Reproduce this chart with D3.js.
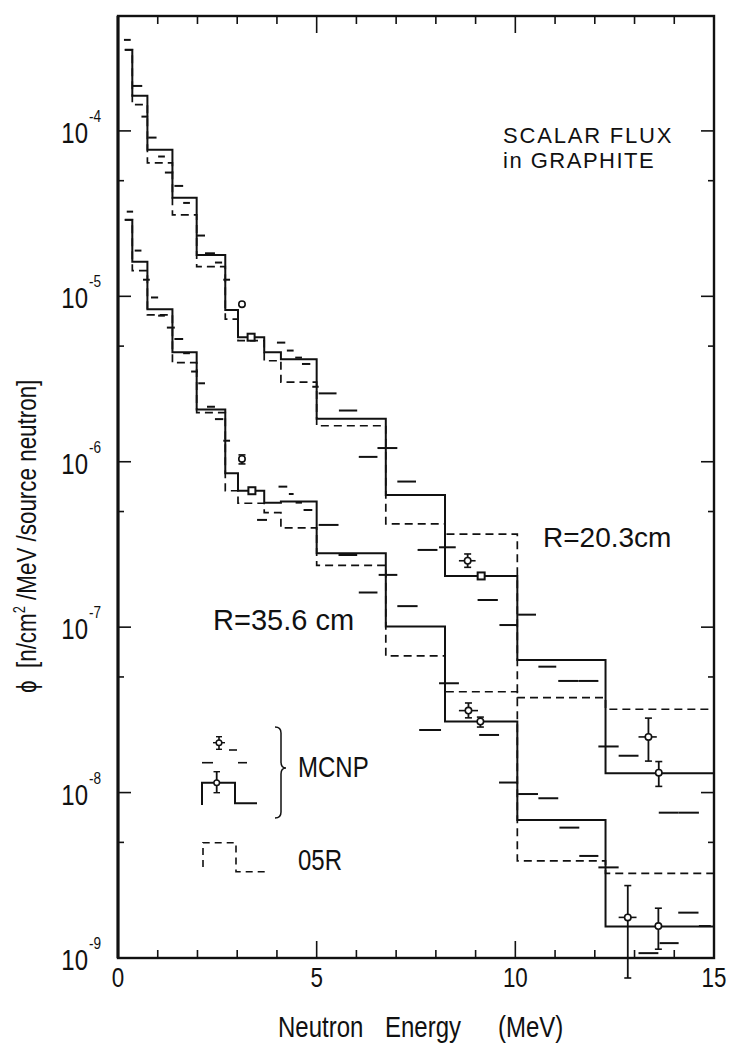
<!DOCTYPE html>
<html>
<head>
<meta charset="utf-8">
<script src="https://cdn.jsdelivr.net/npm/d3@7"></script>
<style>
  body { margin: 0; background: #fff; }
  text { fill: #111; }
</style>
</head>
<body>
<svg id="chart" width="729" height="1045"></svg>
<script>
// energy group boundaries (MeV)
var edges = [0.17, 0.36, 0.74, 1.37, 1.98, 2.70, 3.02, 3.68, 4.10, 5.00, 6.74, 8.23, 10.05, 12.27, 15.0];

// R = 20.3 cm : MCNP (solid) and 05R (dashed) group fluxes
var mcnp20 = [3.09e-4, 1.63e-4, 7.68e-5, 3.95e-5, 1.78e-5, 8.28e-6, 5.66e-6, 4.59e-6, 4.17e-6, 1.82e-6, 6.30e-7, 2.04e-7, 6.34e-8, 1.31e-8];
var o5r20  = [3.09e-4, 1.44e-4, 6.41e-5, 3.11e-5, 1.51e-5, 7.28e-6, 5.40e-6, 4.08e-6, 3.03e-6, 1.65e-6, 4.21e-7, 3.65e-7, 3.75e-8, 3.19e-8];

// R = 35.6 cm
var mcnp35 = [2.90e-5, 1.62e-5, 8.36e-6, 4.59e-6, 2.07e-6, 8.51e-7, 6.68e-7, 5.66e-7, 5.74e-7, 2.80e-7, 1.01e-7, 2.69e-8, 6.83e-9, 1.55e-9];
var o5r35  = [2.90e-5, 1.43e-5, 7.73e-6, 3.97e-6, 1.98e-6, 6.68e-7, 5.61e-7, 4.92e-7, 3.98e-7, 2.36e-7, 6.70e-8, 4.07e-8, 3.87e-9, 3.25e-9];

// MCNP fine-group results: [E low, E high, flux]
var fine20 = [
  [0.15, 0.32, 3.55e-4], [0.36, 0.61, 1.87e-4], [0.59, 0.76, 1.22e-4], [0.76, 0.97, 9.11e-5],
  [1.01, 1.18, 7.00e-5], [1.18, 1.39, 5.60e-5], [1.42, 1.64, 4.65e-5], [1.64, 1.81, 3.67e-5],
  [1.98, 2.19, 2.33e-5], [2.19, 2.44, 1.82e-5], [2.44, 2.62, 1.60e-5], [2.65, 2.82, 1.26e-5],
  [4.00, 4.21, 5.25e-6], [4.25, 4.42, 4.70e-6], [4.46, 4.63, 4.26e-6], [4.63, 4.84, 3.90e-6],
  [4.89, 5.05, 2.84e-6], [5.05, 5.50, 2.59e-6], [5.56, 6.02, 2.04e-6], [6.06, 6.53, 1.07e-6],
  [6.53, 7.03, 1.21e-6], [7.03, 7.50, 7.59e-7], [7.54, 8.04, 2.93e-7], [8.08, 8.50, 3.04e-7],
  [9.05, 9.56, 1.46e-7], [9.60, 10.06, 1.03e-7], [10.07, 10.52, 1.19e-7], [10.58, 11.03, 5.77e-8],
  [11.08, 11.59, 4.73e-8], [11.59, 12.09, 4.73e-8], [12.09, 12.60, 1.90e-8], [12.60, 13.10, 1.67e-8],
  [13.61, 14.11, 7.56e-9], [14.11, 14.62, 7.56e-9]
];
var fine35 = [
  [0.22, 0.38, 3.25e-5], [0.42, 0.59, 1.89e-5], [0.63, 0.80, 1.26e-5], [0.83, 1.01, 9.84e-6],
  [1.01, 1.18, 7.64e-6], [1.23, 1.43, 6.47e-6], [1.42, 1.64, 5.52e-6], [1.64, 1.81, 4.53e-6],
  [1.84, 2.01, 3.51e-6], [2.02, 2.19, 2.98e-6], [2.24, 2.44, 2.15e-6], [2.44, 2.65, 1.81e-6],
  [2.65, 2.82, 1.34e-6], [3.50, 3.75, 4.45e-7], [4.04, 4.26, 7.07e-7], [4.30, 4.42, 6.38e-7],
  [4.47, 4.63, 5.66e-7], [4.67, 4.89, 5.11e-7], [5.05, 5.55, 4.15e-7], [5.55, 6.02, 2.73e-7],
  [6.06, 6.53, 1.62e-7], [6.56, 7.03, 2.07e-7], [7.03, 7.54, 1.34e-7], [7.58, 8.13, 2.39e-8],
  [8.08, 8.58, 4.58e-8], [9.09, 9.59, 2.23e-8], [9.59, 10.07, 1.15e-8], [10.07, 10.57, 9.80e-9],
  [10.58, 11.08, 9.24e-9], [11.11, 11.61, 6.14e-9], [11.61, 12.09, 4.14e-9], [12.09, 12.60, 3.53e-9],
  [13.10, 13.60, 1.07e-9], [13.63, 14.11, 1.23e-9], [14.10, 14.61, 1.88e-9], [14.62, 14.92, 1.56e-9]
];

// MCNP points with errors: [E, flux, low, high, E low, E high]
var points20 = [
  [3.12, 8.96e-6, null, null, null, null],
  [8.80, 2.52e-7, 2.30e-7, 2.77e-7, 8.58, 9.00],
  [13.35, 2.17e-8, 1.55e-8, 2.82e-8, 13.10, 13.56],
  [13.61, 1.32e-8, 1.09e-8, 1.54e-8, null, null]
];
var points35 = [
  [3.12, 1.04e-6, 9.70e-7, 1.10e-6, null, null],
  [8.82, 3.13e-8, 2.83e-8, 3.48e-8, 8.58, 9.06],
  [9.12, 2.69e-8, 2.49e-8, 2.86e-8, null, null],
  [12.83, 1.76e-9, 7.57e-10, 2.74e-9, 12.60, 13.05],
  [13.60, 1.56e-9, 1.13e-9, 2.00e-9, null, null]
];
// small square markers: [E, flux]
var squares = [[3.35, 5.66e-6], [9.14, 2.04e-7], [3.37, 6.68e-7]];

// axis ticks
var xTicks = d3.range(0, 16, 1);
var xLabels = [0, 5, 10, 15];
var yMajor = [1e-9, 1e-8, 1e-7, 1e-6, 1e-5, 1e-4];
var yMinor = [5e-9, 5e-8, 5e-7, 5e-6, 5e-5];

var FONT = "'Liberation Sans',Arial,sans-serif";
var NARROW = 0.8;   // horizontal squeeze for the condensed lettering

var svg = d3.select("#chart");
var pL = 118, pR = 714, pT = 16, pB = 958;

var x = d3.scaleLinear().domain([0, 15]).range([pL, pR]);
var y = d3.scaleLog().domain([1e-9, 4.95e-4]).range([pB, pT]);

svg.append("clipPath").attr("id", "plotclip")
  .append("rect").attr("x", pL).attr("y", pT)
  .attr("width", pR - pL).attr("height", pB - pT);

var plot = svg.append("g").attr("clip-path", "url(#plotclip)");

function steps(vals) {
  var p = vals.map(function(v, i) { return [edges[i], v]; });
  p.push([edges[edges.length - 1], vals[vals.length - 1]]);
  return p;
}

var line = d3.line()
  .x(function(d) { return x(d[0]); })
  .y(function(d) { return y(d[1]); })
  .curve(d3.curveStepAfter);

// 05R dashed histograms
[o5r20, o5r35].forEach(function(vals) {
  plot.append("path")
    .attr("d", line(steps(vals)))
    .attr("fill", "none")
    .attr("stroke", "#111")
    .attr("stroke-width", 1.7)
    .attr("stroke-dasharray", "8,5");
});

// MCNP solid histograms
[mcnp20, mcnp35].forEach(function(vals) {
  plot.append("path")
    .attr("d", line(steps(vals)))
    .attr("fill", "none")
    .attr("stroke", "#111")
    .attr("stroke-width", 2);
});

// fine-group dashes
plot.selectAll("line.fine")
  .data(fine20.concat(fine35))
  .enter().append("line")
  .attr("class", "fine")
  .attr("x1", function(d) { return x(d[0]); })
  .attr("x2", function(d) { return x(d[1]); })
  .attr("y1", function(d) { return y(d[2]); })
  .attr("y2", function(d) { return y(d[2]); })
  .attr("stroke", "#111")
  .attr("stroke-width", 2);

// points with error bars
var pts = svg.append("g");
points20.concat(points35).forEach(function(d) {
  var cx = x(d[0]), cy = y(d[1]);
  if (d[2] != null) {
    var y0 = y(d[2]), y1 = y(d[3]);
    pts.append("line").attr("x1", cx).attr("x2", cx).attr("y1", y0).attr("y2", y1)
      .attr("stroke", "#111").attr("stroke-width", 1.8);
    [y0, y1].forEach(function(yy) {
      pts.append("line").attr("x1", cx - 3.5).attr("x2", cx + 3.5).attr("y1", yy).attr("y2", yy)
        .attr("stroke", "#111").attr("stroke-width", 1.6);
    });
  }
  if (d[4] != null) {
    pts.append("line").attr("x1", x(d[4])).attr("x2", x(d[5])).attr("y1", cy).attr("y2", cy)
      .attr("stroke", "#111").attr("stroke-width", 1.6);
  }
  pts.append("circle").attr("cx", cx).attr("cy", cy).attr("r", 3.2)
    .attr("fill", "#fff").attr("stroke", "#111").attr("stroke-width", 1.6);
});

pts.selectAll("rect.sq")
  .data(squares)
  .enter().append("rect")
  .attr("class", "sq")
  .attr("x", function(d) { return x(d[0]) - 3.5; })
  .attr("y", function(d) { return y(d[1]) - 3.5; })
  .attr("width", 7).attr("height", 7)
  .attr("fill", "#fff").attr("stroke", "#111").attr("stroke-width", 2);

// frame
var frame = svg.append("g");
frame.append("rect").attr("x", pL).attr("y", pT)
  .attr("width", pR - pL).attr("height", pB - pT)
  .attr("fill", "none").attr("stroke", "#111").attr("stroke-width", 2.4);
frame.append("line").attr("x1", pL).attr("x2", pL).attr("y1", pT).attr("y2", pB)
  .attr("stroke", "#111").attr("stroke-width", 3);

// x ticks, top and bottom, pointing inward
xTicks.forEach(function(t) {
  if (t === 0 || t === 15) return;
  var len = (t % 5 === 0) ? 17 : 8;
  frame.append("line").attr("x1", x(t)).attr("x2", x(t)).attr("y1", pB).attr("y2", pB - len)
    .attr("stroke", "#111").attr("stroke-width", 1.6);
  frame.append("line").attr("x1", x(t)).attr("x2", x(t)).attr("y1", pT).attr("y2", pT + len)
    .attr("stroke", "#111").attr("stroke-width", 1.6);
});

// y ticks, left and right, pointing inward
yMajor.concat(yMinor).forEach(function(t) {
  var len = yMajor.indexOf(t) >= 0 ? 13 : 6;
  frame.append("line").attr("x1", pL).attr("x2", pL + len).attr("y1", y(t)).attr("y2", y(t))
    .attr("stroke", "#111").attr("stroke-width", 1.6);
  frame.append("line").attr("x1", pR).attr("x2", pR - len).attr("y1", y(t)).attr("y2", y(t))
    .attr("stroke", "#111").attr("stroke-width", 1.6);
});

// condensed text helper: squeezes the glyphs horizontally
function narrowText(px, py, str, size, anchor, rot) {
  var t = svg.append("text")
    .attr("transform", "translate(" + px + "," + py + ")" + (rot ? " rotate(" + rot + ")" : "") + " scale(" + NARROW + ",1)")
    .attr("text-anchor", anchor || "start")
    .attr("xml:space", "preserve")
    .style("font-family", FONT)
    .style("font-size", size + "px");
  if (str != null) t.text(str);
  return t;
}

// x tick labels
xLabels.forEach(function(d) {
  narrowText(x(d), pB + 29, String(d), 28, "middle");
});

// y tick labels 10^n
yMajor.forEach(function(t) {
  var ty = y(t);
  narrowText(88, ty + 12, "10", 30, "end");
  narrowText(89, ty - 9, "-" + Math.round(-Math.log10(t)), 17, "start");
});

// axis titles
narrowText(278, 1037, "Neutron", 30, "start");
narrowText(385, 1037, "Energy", 30, "start");
narrowText(498, 1037, "(MeV)", 30, "start");

var yt = narrowText(36, 693, null, 28, "start", -90);
yt.append("tspan").text("\u03d5  [n/cm");
yt.append("tspan").attr("dy", -11).style("font-size", "16px").text("2");
yt.append("tspan").attr("dy", 11).text(" /MeV /source neutron]");

// annotations
svg.append("text").attr("x", 503).attr("y", 143)
  .style("font-family", FONT).style("font-size", "22px").style("letter-spacing", "1.8px")
  .text("SCALAR FLUX");
svg.append("text").attr("x", 503).attr("y", 168)
  .style("font-family", FONT).style("font-size", "22px").style("letter-spacing", "1.5px")
  .text("in GRAPHITE");
svg.append("text").attr("x", 543).attr("y", 547)
  .style("font-family", FONT).style("font-size", "28px")
  .text("R=20.3cm");
svg.append("text").attr("x", 213).attr("y", 630)
  .attr("xml:space", "preserve")
  .style("font-family", FONT).style("font-size", "29px")
  .text("R=35.6 cm");

// legend
var lg = svg.append("g").attr("stroke", "#111").attr("fill", "none");
// point + dashes (fine groups)
lg.append("line").attr("x1", 219).attr("x2", 219).attr("y1", 736.7).attr("y2", 749.3).attr("stroke-width", 1.6);
lg.append("line").attr("x1", 216).attr("x2", 222).attr("y1", 736.7).attr("y2", 736.7).attr("stroke-width", 1.4);
lg.append("line").attr("x1", 216).attr("x2", 222).attr("y1", 749.3).attr("y2", 749.3).attr("stroke-width", 1.4);
lg.append("line").attr("x1", 213).attr("x2", 225).attr("y1", 742.7).attr("y2", 742.7).attr("stroke-width", 1.4);
lg.append("circle").attr("cx", 219).attr("cy", 742.7).attr("r", 2.8).attr("fill", "#fff").attr("stroke-width", 1.5);
lg.append("line").attr("x1", 229).attr("x2", 237).attr("y1", 750).attr("y2", 750).attr("stroke-width", 1.6);
lg.append("line").attr("x1", 202).attr("x2", 213).attr("y1", 762.7).attr("y2", 762.7).attr("stroke-width", 1.6);
lg.append("line").attr("x1", 238).attr("x2", 247).attr("y1", 762.7).attr("y2", 762.7).attr("stroke-width", 1.6);
// solid group histogram
lg.append("path").attr("d", "M202,805V782.7H235V803.3H257").attr("stroke-width", 2);
lg.append("line").attr("x1", 216.7).attr("x2", 216.7).attr("y1", 771.7).attr("y2", 792.7).attr("stroke-width", 1.8);
lg.append("line").attr("x1", 213.5).attr("x2", 220).attr("y1", 771.7).attr("y2", 771.7).attr("stroke-width", 1.4);
lg.append("line").attr("x1", 213.5).attr("x2", 220).attr("y1", 792.7).attr("y2", 792.7).attr("stroke-width", 1.4);
lg.append("circle").attr("cx", 216.7).attr("cy", 782.7).attr("r", 2.8).attr("fill", "#fff").attr("stroke-width", 1.5);
// brace
lg.append("path")
  .attr("d", "M275,727Q281,727 281,733L281,762Q281,768 286,768Q281,768 281,774L281,812Q281,818 275,818")
  .attr("stroke-width", 1.5);
// 05R dashed
lg.append("path").attr("d", "M203,867V842.7H236V871.7H265")
  .attr("stroke-width", 1.6).attr("stroke-dasharray", "7,5");

narrowText(298, 777, "MCNP", 30, "start");
narrowText(298, 870, "05R", 30, "start");
</script>
</body>
</html>
